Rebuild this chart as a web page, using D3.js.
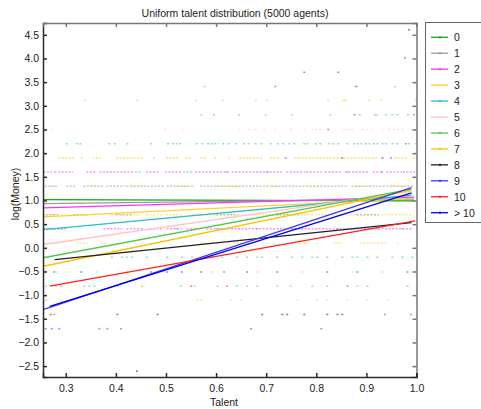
<!DOCTYPE html>
<html>
<head>
<meta charset="utf-8">
<script src="https://cdn.jsdelivr.net/npm/d3@7"></script>
<style>
  body { margin: 0; background: #fff; }
  svg text { font-family: "Liberation Sans", Arial, sans-serif; fill: #222; }
</style>
</head>
<body>
<div id="chart"></div>
<script>
// groups (legend entries) and their colours
const groups = ["0", "1", "2", "3", "4", "5", "6", "7", "8", "9", "10", "> 10"];
const groupColors = ["#10a810", "#9a9a9a", "#ff30ff", "#ffd030", "#30c0c0", "#ffc4c4",
                     "#50c850", "#ffc000", "#202020", "#3838ff", "#ff2020", "#0000f0"];

// fitted lines: talent start/end and log(money) start/end, per group
const lineT0 = [0.255, 0.255, 0.255, 0.255, 0.255, 0.255, 0.255, 0.255, 0.278, 0.256, 0.268, 0.268];
const lineT1 = [0.995, 0.995, 0.995, 0.99, 0.99, 0.99, 0.99, 0.99, 0.99, 0.99, 0.997, 0.99];
const lineV0 = [1.02, 0.935, 0.845, 0.654, 0.386, 0.07, -0.21, -0.39, -0.25, -1.30, -0.81, -1.24];
const lineV1 = [0.99, 1.03, 1.07, 1.04, 1.11, 1.19, 1.24, 1.22, 0.53, 1.27, 0.57, 1.16];

// agents: money level (log), group, talent values or [from, to] runs of dots
const dotRows = [
  { v: 4.61, g: 11, t: [0.983] },
  { v: 4.01, g: 9, t: [0.975] },
  { v: 3.71, g: 9, t: [0.774, 0.842] },
  { v: 3.41, g: 1, t: [0.575, 0.955] },
  { v: 3.41, g: 10, t: [0.716] },
  { v: 3.41, g: 8, t: [0.878] },
  { v: 3.11, g: 7, t: [0.337, 0.44, 0.558, 0.611, 0.677, 0.699, 0.822, 0.852, 0.856, 0.903, 0.927, 0.997] },
  { v: 2.81, g: 6, t: [0.569, 0.594, 0.644, 0.697, 0.826, 0.915, 0.920, 0.937, 0.950, 0.960, 0.981] },
  { v: 2.81, g: 1, t: [0.750, 0.885] },
  { v: 2.81, g: 9, t: [0.874] },
  { v: 2.81, g: 10, t: [0.993] },
  { v: 2.50, g: 5, t: [0.271, 0.496, 0.530, 0.644, 0.664, 0.676, 0.694, 0.716, 0.747, 0.776, 0.790, 0.797, 0.806,
                       [0.850, 0.875], 0.890, 0.90, 0.91, 0.93, 0.943, 0.952, 0.961, 0.970, 0.987, 0.997] },
  { v: 2.50, g: 9, t: [0.822] },
  { v: 2.20, g: 4, t: [0.300, [0.320, 0.327], 0.385, 0.396, 0.421, 0.468, 0.502, 0.512, 0.519, 0.526, 0.559, 0.570,
                       [0.582, 0.601], 0.612, 0.623, 0.637, 0.654, 0.663, 0.677, 0.689, 0.707, 0.721, 0.732, 0.744,
                       0.754, 0.774, 0.780, 0.797, 0.806, 0.824, 0.832, 0.842, 0.860, [0.874, 0.890], 0.897, 0.904,
                       0.913, 0.920, 0.930, 0.937, 0.950, 0.959, 0.983, 0.997] },
  { v: 2.20, g: 10, t: [0.977] },
  { v: 1.90, g: 7, t: [[0.285, 0.313], 0.330, [0.360, 0.366], [0.400, 0.451], 0.474, [0.500, 0.522], [0.539, 0.546],
                       [0.569, 0.577], 0.596, 0.624, [0.646, 0.690], [0.707, 0.722], [0.757, 0.920], 0.930,
                       [0.955, 0.977], 0.993] },
  { v: 1.90, g: 9, t: [0.737, 0.850, 0.930, 0.947] },
  { v: 1.90, g: 5, t: [0.353] },
  { v: 1.60, g: 2, t: [[0.255, 0.268], 0.277, [0.285, 0.311], [0.341, 0.358], [0.367, 0.375], [0.381, 0.431],
                       [0.460, 0.481], [0.498, 0.528], [0.558, 0.587], [0.594, 0.621], [0.631, 0.701],
                       [0.707, 0.727], [0.740, 0.774], [0.787, 0.807], [0.817, 0.847], [0.857, 0.900],
                       [0.913, 0.927], [0.940, 0.967], [0.973, 0.993]] },
  { v: 1.60, g: 4, t: [[0.438, 0.448], [0.534, 0.548], 0.62, 0.70, 0.78, 0.86, 0.93] },
  { v: 1.30, g: 1, t: [[0.258, 0.278], [0.301, 0.315], [0.335, 0.371], [0.381, 0.414], [0.421, 0.494],
                       [0.501, 0.554], [0.568, 0.700], [0.710, 0.860], [0.870, 0.990]] },
  { v: 1.30, g: 3, t: [[0.270, 0.275], [0.350, 0.360], [0.430, 0.450], [0.520, 0.540], [0.600, 0.640],
                       [0.700, 0.720], [0.780, 0.800], [0.880, 0.900], [0.950, 0.970]] },
  { v: 0.70, g: 3, t: [[0.255, 0.290], [0.320, 0.345], [0.390, 0.410], [0.420, 0.445], [0.460, 0.490],
                       [0.500, 0.530], [0.545, 0.565], [0.580, 0.990]] },
  { v: 0.70, g: 1, t: [[0.260, 0.280], [0.315, 0.340], [0.400, 0.430], [0.600, 0.640], [0.720, 0.760], [0.880, 0.920]] },
  { v: 0.40, g: 2, t: [[0.255, 0.300], [0.375, 0.408], [0.421, 0.447], [0.467, 0.487], [0.501, 0.528],
                       [0.541, 0.561], [0.581, 0.990]] },
  { v: 0.40, g: 4, t: [[0.255, 0.290], 0.45, 0.52, [0.60, 0.62], 0.68, [0.75, 0.77], 0.84, 0.92, 0.97] },
  { v: 0.10, g: 3, t: [[0.255, 0.288], [0.320, 0.340], [0.370, 0.380], [0.568, 0.587], [0.634, 0.661],
                       [0.754, 0.780], [0.834, 0.847], [0.887, 0.940]] },
  { v: 0.10, g: 5, t: [0.27, 0.45, 0.60, 0.70, 0.80, 0.96] },
  { v: -0.20, g: 4, t: [0.255, 0.39, 0.41, 0.43, 0.46, 0.50, 0.53, 0.55, 0.59, 0.61, 0.64, 0.66, 0.69, 0.72, 0.75,
                        0.77, 0.80, 0.82, 0.85, 0.87, 0.90, 0.92, 0.95, 0.97, 0.99] },
  { v: -0.20, g: 6, t: [0.42, 0.58, 0.68, 0.79, 0.88] },
  { v: -0.51, g: 9, t: [0.275, 0.329, 0.468, 0.50, 0.53, 0.568, 0.614, 0.660, 0.720, 0.820, 0.880, 0.980] },
  { v: -0.51, g: 3, t: [0.28, 0.30, 0.36, 0.42, 0.59, 0.68, 0.77, 0.87, 0.93] },
  { v: -0.81, g: 6, t: [0.258, 0.278, 0.288, 0.335, 0.345, 0.355, 0.401, 0.528, 0.555, 0.601, 0.640, 0.680, 0.747,
                        0.790, 0.820, 0.900, 0.980] },
  { v: -0.81, g: 10, t: [0.548, 0.62, 0.86] },
  { v: -0.81, g: 1, t: [0.45, 0.66, 0.72, 0.88] },
  { v: -1.11, g: 3, t: [0.258, 0.261, 0.335, 0.561, 0.628, 0.568, 0.648, 0.761, 0.800, 0.820, 0.860, 0.900, 0.940] },
  { v: -1.41, g: 8, t: [0.268, 0.401, 0.481, 0.690, 0.730, 0.740, 0.774, 0.820, 0.840, 0.850] },
  { v: -1.41, g: 10, t: [0.275, 0.935, 0.987] },
  { v: -1.71, g: 9, t: [0.258, 0.270, 0.285, 0.365, 0.381, 0.408, 0.668, 0.808] },
  { v: -2.61, g: 11, t: [0.44] }
];

const xTicks = [0.3, 0.4, 0.5, 0.6, 0.7, 0.8, 0.9, 1.0];
const yTicks = [-2.5, -2.0, -1.5, -1.0, -0.5, 0.0, 0.5, 1.0, 1.5, 2.0, 2.5, 3.0, 3.5, 4.0, 4.5];

const W = 481, H = 409;
const plot = { left: 43, right: 416.5, top: 23, bottom: 377 };

const svg = d3.select("#chart").append("svg")
    .attr("width", W).attr("height", H);

const x = d3.scaleLinear().domain([0.2545, 1.0]).range([plot.left, plot.right]);
const y = d3.scaleLinear().domain([-2.73, 4.75]).range([plot.bottom, plot.top]);

// title
svg.append("text")
    .attr("x", 235).attr("y", 17)
    .attr("text-anchor", "middle")
    .style("font-size", "10.5px")
    .text("Uniform talent distribution (5000 agents)");

// clip to plot area
svg.append("clipPath").attr("id", "clip")
  .append("rect")
    .attr("x", plot.left).attr("y", plot.top)
    .attr("width", plot.right - plot.left).attr("height", plot.bottom - plot.top);

const g = svg.append("g").attr("clip-path", "url(#clip)");

// agents as tiny dashes
const dots = [];
dotRows.forEach(r => r.t.forEach(t => {
  const t0 = Array.isArray(t) ? t[0] : t;
  const t1 = Array.isArray(t) ? t[1] : t;
  dots.push({ v: r.v, g: r.g, t0, t1 });
}));

g.selectAll(".dot")
  .data(dots)
  .enter()
  .append("line")
    .attr("class", "dot")
    .attr("x1", d => x(d.t0))
    .attr("x2", d => x(d.t1) + 2)
    .attr("y1", d => y(d.v))
    .attr("y2", d => y(d.v))
    .attr("stroke", d => groupColors[d.g])
    .attr("stroke-width", 1.5)
    .attr("stroke-opacity", 0.55)
    .attr("stroke-dasharray", d => d.t1 > d.t0 ? "2 1.5" : null);

// fitted lines
const lines = groups.map((name, i) => ({
  name, i, t0: lineT0[i], t1: lineT1[i], v0: lineV0[i], v1: lineV1[i]
}));

g.selectAll(".fit")
  .data(lines)
  .enter()
  .append("line")
    .attr("class", "fit")
    .attr("x1", d => x(d.t0)).attr("y1", d => y(d.v0))
    .attr("x2", d => x(d.t1)).attr("y2", d => y(d.v1))
    .attr("stroke", d => groupColors[d.i])
    .attr("stroke-width", 1.3);

// axes: ticks point inward on all four sides
const frame = svg.append("g");
const axLeft = frame.append("g")
    .attr("transform", `translate(${plot.left},0)`)
    .call(d3.axisLeft(y).tickValues(yTicks).tickSize(-4).tickPadding(4).tickFormat(d3.format(".1f")));
const axRight = frame.append("g")
    .attr("transform", `translate(${plot.right},0)`)
    .call(d3.axisRight(y).tickValues(yTicks).tickSize(-4).tickFormat(""));
const axBottom = frame.append("g")
    .attr("transform", `translate(0,${plot.bottom})`)
    .call(d3.axisBottom(x).tickValues(xTicks).tickSize(-4).tickPadding(7.5).tickFormat(d3.format(".1f")));
const axTop = frame.append("g")
    .attr("transform", `translate(0,${plot.top})`)
    .call(d3.axisTop(x).tickValues(xTicks).tickSize(-4).tickFormat(""));

[axLeft, axBottom].forEach(a => a.selectAll(".domain, .tick line").attr("stroke", "#2a2a2a").attr("stroke-width", 1.5));
[axRight, axTop].forEach(a => a.selectAll(".domain, .tick line").attr("stroke", "#777").attr("stroke-width", 1.5));
frame.selectAll(".tick text")
    .style("font-size", "10.5px")
    .style("font-family", "'Liberation Sans', Arial, sans-serif")
    .attr("fill", "#222");

// axis titles
svg.append("text")
    .attr("x", 224).attr("y", 406)
    .attr("text-anchor", "middle")
    .style("font-size", "10.5px")
    .text("Talent");
svg.append("text")
    .attr("transform", "translate(19,194) rotate(-90)")
    .attr("text-anchor", "middle")
    .style("font-size", "10.5px")
    .text("log(Money)");

// legend
const legend = svg.append("g");
legend.append("rect")
    .attr("x", 425.5).attr("y", 22.5)
    .attr("width", 60).attr("height", 200)
    .attr("fill", "#fff").attr("stroke", "#666").attr("stroke-width", 1);

const ly = d3.scalePoint().domain(groups).range([37.3, 212.7]);
const items = legend.selectAll(".item")
  .data(lines)
  .enter()
  .append("g")
    .attr("class", "item")
    .attr("transform", d => `translate(0,${ly(d.name)})`);
items.append("line")
    .attr("x1", 431).attr("x2", 448)
    .attr("stroke", d => groupColors[d.i])
    .attr("stroke-width", 1.3);
items.append("rect")
    .attr("x", 439).attr("y", -1).attr("width", 2).attr("height", 2)
    .attr("fill", d => groupColors[d.i]);
items.append("text")
    .attr("x", 454).attr("y", 4)
    .style("font-size", "10.5px")
    .text(d => d.name);
</script>
</body>
</html>
